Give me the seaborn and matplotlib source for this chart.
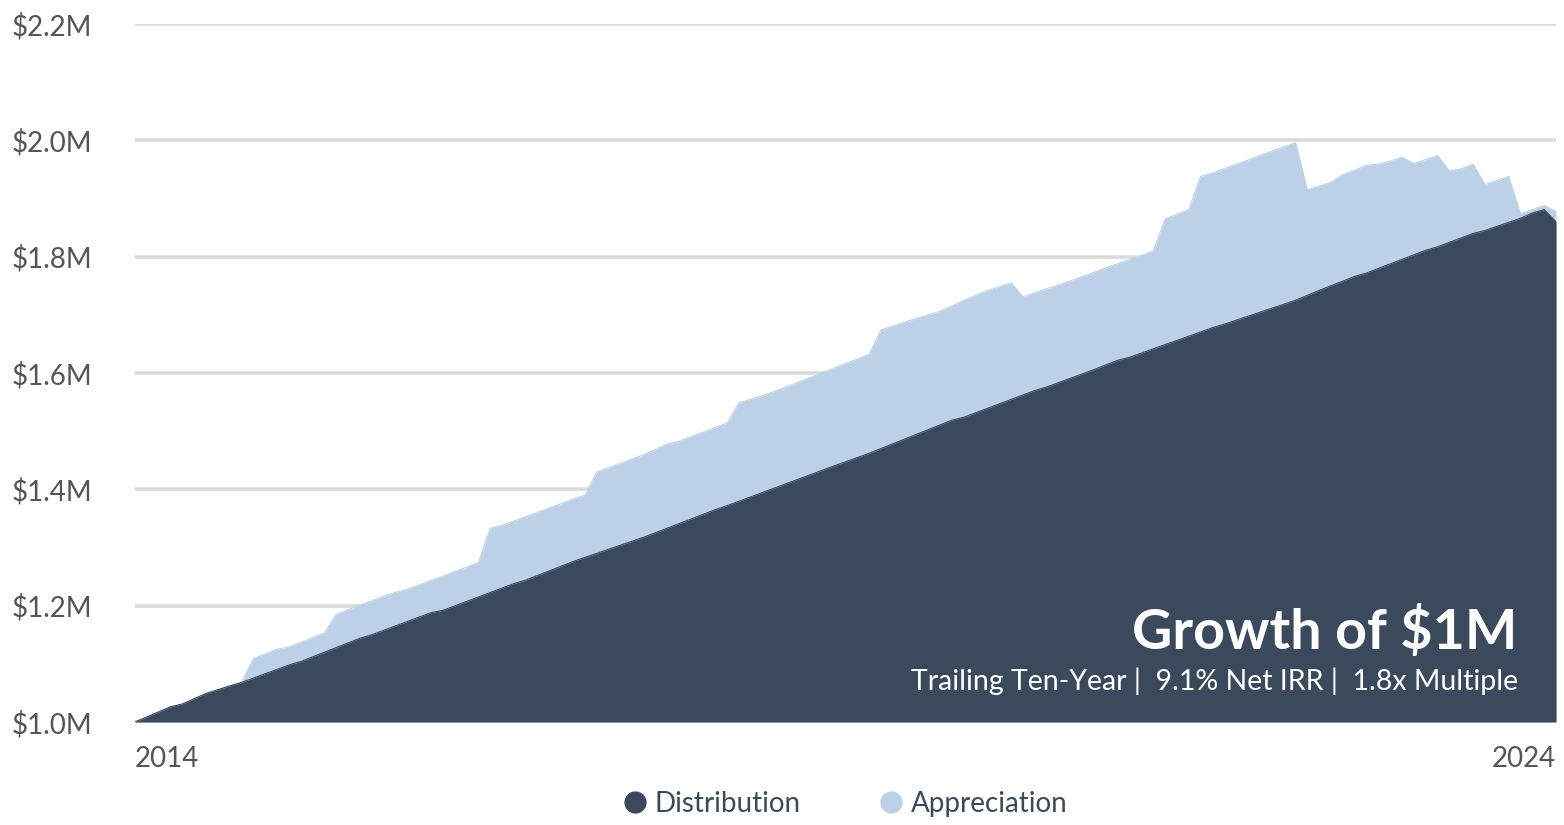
import numpy as np
import pandas as pd
import matplotlib
matplotlib.use("Agg")
import matplotlib.pyplot as plt
from matplotlib.lines import Line2D
import seaborn as sns

# Month index (0 = start of 2014) and value of $1M
dist_month = [0, 3, 4, 6, 8, 9, 13, 14, 19, 20, 25, 26, 32, 33, 37, 38, 40, 43, 49, 50,
              59, 62, 69, 70, 76, 77, 81, 83, 84, 87, 88, 91, 92, 98, 100, 103, 104,
              109, 110, 113, 114, 117, 118, 119, 120]
dist_value = [1.000, 1.026, 1.031, 1.049, 1.062, 1.068, 1.098, 1.104, 1.144, 1.150,
              1.188, 1.192, 1.238, 1.244, 1.276, 1.283, 1.297, 1.318, 1.365, 1.372,
              1.440, 1.462, 1.519, 1.524, 1.570, 1.576, 1.606, 1.622, 1.627, 1.649,
              1.656, 1.678, 1.684, 1.725, 1.742, 1.766, 1.772, 1.811, 1.817, 1.840,
              1.845, 1.866, 1.875, 1.881, 1.860]

# Distribution + Appreciation (total)
total_month = [0, 3, 4, 6, 8, 9, 10, 12, 13, 16, 17, 19, 21, 22, 23, 29, 30, 31, 37, 38,
               39, 40, 43, 45, 46, 50, 51, 53, 55, 62, 63, 66, 68, 70, 72, 73, 74, 75,
               77, 78, 81, 82, 85, 86, 87, 89, 90, 91, 98, 99, 100, 101, 102, 104, 105,
               106, 107, 108, 110, 111, 112, 113, 114, 116, 117, 119, 120]
total_value = [1.000, 1.026, 1.031, 1.049, 1.062, 1.068, 1.109, 1.125, 1.129, 1.153,
               1.185, 1.201, 1.216, 1.223, 1.228, 1.274, 1.333, 1.338, 1.383, 1.390,
               1.430, 1.437, 1.460, 1.478, 1.483, 1.514, 1.549, 1.561, 1.576, 1.632,
               1.674, 1.694, 1.706, 1.725, 1.742, 1.748, 1.755, 1.731, 1.745, 1.751,
               1.773, 1.781, 1.802, 1.810, 1.865, 1.881, 1.938, 1.944, 1.996, 1.915,
               1.921, 1.928, 1.941, 1.957, 1.959, 1.964, 1.971, 1.960, 1.974, 1.947,
               1.951, 1.959, 1.924, 1.938, 1.874, 1.888, 1.878]

y_ticks = [1.0, 1.2, 1.4, 1.6, 1.8, 2.0, 2.2]
y_labels = ["$1.0M", "$1.2M", "$1.4M", "$1.6M", "$1.8M", "$2.0M", "$2.2M"]
start_year, end_year = 2014, 2024
series = ["Distribution", "Appreciation"]

DARK = "#3a4a5c"
LIGHT = "#bcd1e7"
GRID = "#dadada"
TEXT = "#555555"

sns.set_theme(style="white")
plt.rcParams["font.family"] = ["Lato", "DejaVu Sans"]

dist = pd.DataFrame({"year": start_year + np.array(dist_month) / 12, "value": dist_value})
total = pd.DataFrame({"year": start_year + np.array(total_month) / 12, "value": total_value})

fig = plt.figure(figsize=(15.64, 8.25), dpi=100)
ax = fig.add_axes([135 / 1564, 1 - 722 / 825, (1556 - 135) / 1564, (722 - 24) / 825])

# gridlines
for t in y_ticks:
    ax.axhline(t, color=GRID, lw=2.6, zorder=0)

ax.fill_between(total["year"], 1.0, total["value"], color=LIGHT, lw=0, zorder=1)
sns.lineplot(data=total, x="year", y="value", color=LIGHT, lw=0.8, ax=ax, zorder=1)
ax.fill_between(dist["year"], 1.0, dist["value"], color=DARK, lw=0, zorder=2)
sns.lineplot(data=dist, x="year", y="value", color=DARK, lw=0.8, ax=ax, zorder=2)

ax.set_xlim(start_year, end_year)
ax.set_ylim(1.0, 2.2)
ax.set_xlabel("")
ax.set_ylabel("")
ax.set_yticks(y_ticks)
ax.set_yticklabels(y_labels, fontsize=20, color=TEXT)
ax.set_xticks([start_year, end_year])
ax.set_xticklabels([str(start_year), str(end_year)], fontsize=20, color=TEXT)
xt = ax.get_xticklabels()
xt[0].set_ha("left")
xt[1].set_ha("right")
ax.tick_params(axis="y", length=0, pad=31)
ax.tick_params(axis="x", length=0, pad=17)
for s in ax.spines.values():
    s.set_visible(False)

ax.text(0.973, 0.105, "Growth of $1M", transform=ax.transAxes, ha="right", va="baseline",
        fontsize=40, fontweight="bold", color="white", zorder=5)
ax.text(0.973, 0.046, "Trailing Ten-Year |  9.1% Net IRR |  1.8x Multiple",
        transform=ax.transAxes, ha="right", va="baseline", fontsize=20.5,
        color="white", zorder=5)

handles = [Line2D([], [], marker="o", ls="", markersize=15, color=c) for c in (DARK, LIGHT)]
leg = fig.legend(handles, series, loc="center", bbox_to_anchor=(0.54, 0.026), ncol=2,
                 frameon=False, fontsize=20, handletextpad=0.2, columnspacing=2.75,
                 handlelength=1.0)
for t in leg.get_texts():
    t.set_color(DARK)

fig.savefig("out.png", dpi=100)
